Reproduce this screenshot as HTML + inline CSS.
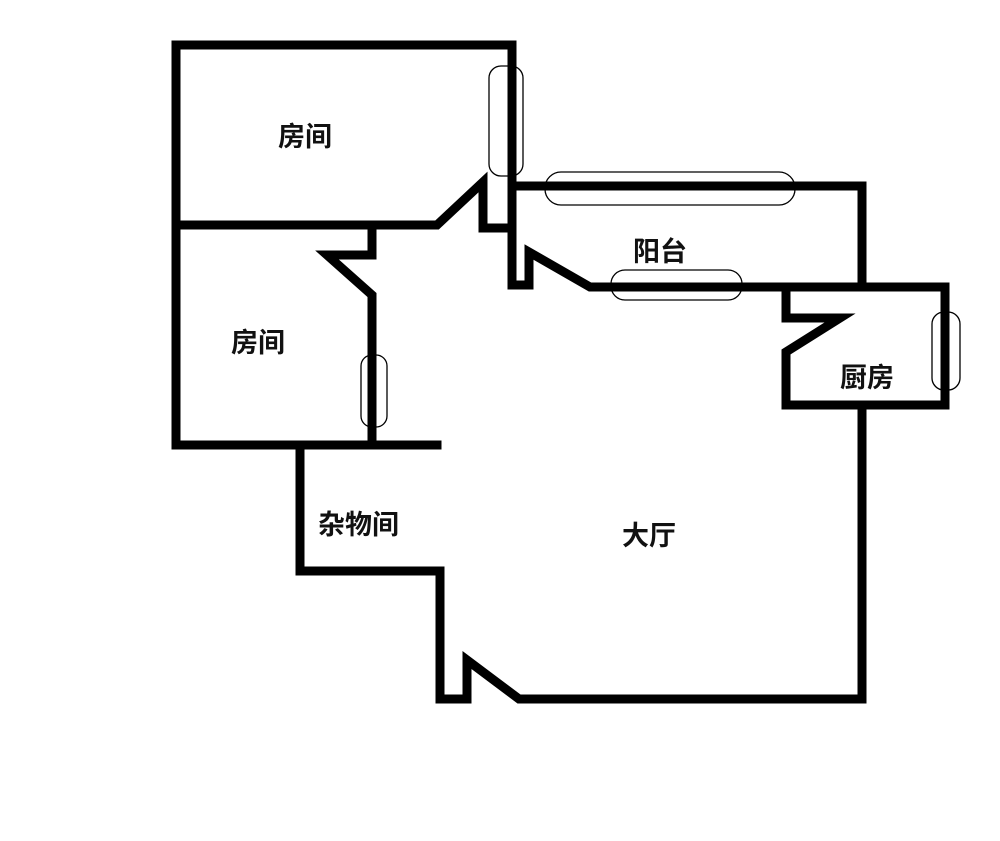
<!DOCTYPE html>
<html><head><meta charset="utf-8"><style>
body{margin:0;background:#fff}
svg{display:block}
text{font-family:"Liberation Sans","Noto Sans CJK SC",sans-serif;font-weight:bold;font-size:27px;fill:#111}
</style></head><body>
<svg width="1000" height="841" viewBox="0 0 1000 841">
<g fill="none" stroke="#000" stroke-width="9" stroke-linejoin="miter" stroke-linecap="square">
<polyline points="510,228 483,228 483,182 437,225 176,225"/>
<polyline points="176,445 176,45 512,45 512,285 529,285 529,252 590,287 945,287 945,405 786,405 786,352 840,318 786,318 786,287"/>
<polyline points="512,186 862,186 862,287"/>
<polyline points="862,405 862,699 519,699 467,660 467,699 440,699 440,571 300,571 300,445"/>
<polyline points="176,445 437,445"/>
<polyline points="372,445 372,295 327,255 372,255 372,228"/>
</g>
<g fill="none" stroke="#000" stroke-width="1.3">
<rect x="489" y="66" width="34" height="110" rx="12"/>
<rect x="545" y="172" width="250" height="33" rx="16"/>
<rect x="611" y="270" width="131" height="30" rx="14"/>
<rect x="932" y="312" width="28" height="78" rx="12"/>
<rect x="361" y="355" width="26" height="72" rx="11"/>
</g>
<text x="278" y="146">房间</text>
<text x="231" y="352">房间</text>
<text x="633" y="261">阳台</text>
<text x="840" y="387">厨房</text>
<text x="318" y="534">杂物间</text>
<text x="622" y="545">大厅</text>
</svg>
</body></html>
